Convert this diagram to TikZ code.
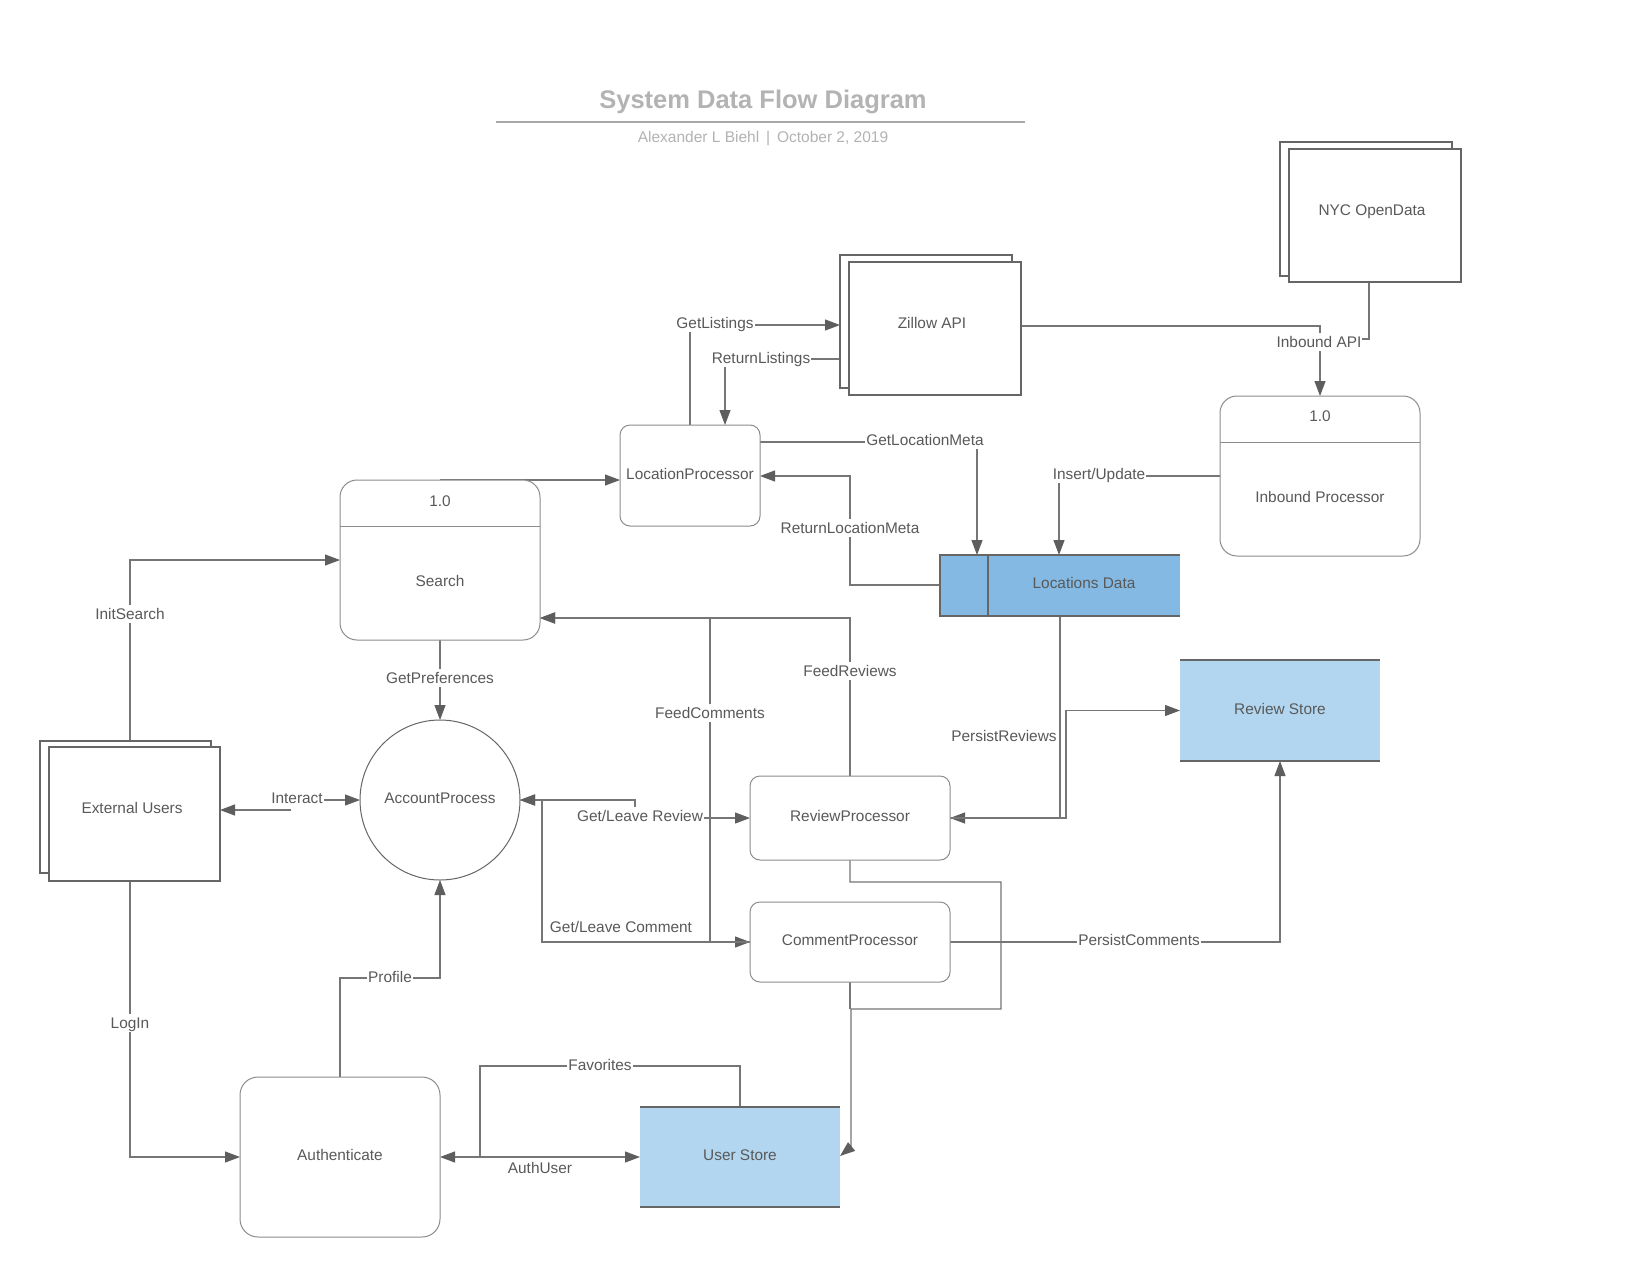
\documentclass[tikz,border=0pt]{standalone}
\usepackage{fontspec}
\setmainfont{Liberation Sans}
\usetikzlibrary{arrows.meta,calc}
\pgfdeclarelayer{bg}
\pgfsetlayers{bg,main}

\definecolor{ink}{HTML}{595959}
\definecolor{wire}{HTML}{767676}
\definecolor{tipc}{HTML}{5E5E5E}
\definecolor{edge}{HTML}{8C8C8C}
\definecolor{dark}{HTML}{666666}
\definecolor{storeA}{HTML}{83B9E2}
\definecolor{storeB}{HTML}{B2D6F0}
\definecolor{head}{HTML}{B3B3B3}
\definecolor{rule}{HTML}{A9A9A9}

\newcommand\lblfont{\fontsize{15.4}{18}\selectfont}

\begin{document}
\begin{tikzpicture}[x=1pt,y=-1pt,
  font=\lblfont,
  every node/.style={inner sep=0pt,outer sep=0pt},
  txt/.style={text=ink,text height=13pt,text depth=1.3pt},
  boxtxt/.style={text=ink,text height=11pt,text depth=3.3pt},
  lbl/.style={txt,fill=white,inner xsep=1pt,inner ysep=1.5pt},
  proc/.style={boxtxt,draw=edge,line width=1pt,fill=white,rounded corners=10pt},
  bigproc/.style={proc,rounded corners=17pt,minimum width=200pt,minimum height=160pt},
  ent/.style={draw=dark,line width=1.1pt,fill=white},
  plain/.style={draw=wire,line width=1.1pt},
  conn/.style={plain,-{Triangle[length=15pt,width=11pt,color=tipc]}},
  both/.style={plain,{Triangle[length=15pt,width=11pt,color=tipc]}-{Triangle[length=15pt,width=11pt,color=tipc]}},
  border/.style={draw=dark,line width=1.1pt}
]
\useasboundingbox (0,0) rectangle (1640,1280);

% heading
\node[font=\bfseries\fontsize{25.5}{30}\selectfont,text=head] (title) at (763,102) {System Data Flow Diagram};
\coordinate (ruleL) at (496,122);
\coordinate (ruleR) at (1025,122);
\draw[rule,line width=2pt] (ruleL) -- (ruleR);
\node[font=\fontsize{15.5}{18}\selectfont,text=head] (sub) at (763,139) {Alexander L Biehl \,|\, October 2, 2019};

% external entities
\node[ent,minimum width=172pt,minimum height=133pt] (zilB) at (926,321.5) {};
\node[ent,minimum width=172pt,minimum height=133pt] (zil) at (935,328.5) {};
\node[txt] (zilT) at (932,323) {Zillow API};

\node[ent,minimum width=172pt,minimum height=134pt] (nycB) at (1366,209) {};
\node[ent,minimum width=172pt,minimum height=133pt] (nyc) at (1375,215.5) {};
\node[txt] (nycT) at (1372,210) {NYC OpenData};

\node[ent,minimum width=171pt,minimum height=132pt] (eub) at (125.5,807) {};
\node[ent,minimum width=171pt,minimum height=134pt] (eu) at (134.5,814) {};
\node[txt] (euT) at (132,808) {External Users};

% processes
\node[proc,minimum width=140pt,minimum height=101pt] (lp) at (690,475.5) {LocationProcessor};

\node[bigproc] (srch) at (440,560) {};
\draw[edge,line width=1pt] (srch.west |- 0,526) -- (srch.east |- 0,526);
\node[txt] (srchN) at (440,501) {1.0};
\node[txt] (srchT) at (440,581) {Search};

\node[bigproc] (ip) at (1320,476) {};
\draw[edge,line width=1pt] (ip.west |- 0,442) -- (ip.east |- 0,442);
\node[txt] (ipN) at (1320,416) {1.0};
\node[txt] (ipT) at (1320,497) {Inbound Processor};

\node[boxtxt,circle,draw=dark,line width=1pt,fill=white,minimum size=160pt] (ap) at (440,800) {AccountProcess};

\node[proc,minimum width=200pt,minimum height=84pt] (rp) at (850,818) {ReviewProcessor};
\node[proc,minimum width=200pt,minimum height=80pt] (cp) at (850,942) {CommentProcessor};
\node[proc,rounded corners=18pt,minimum width=200pt,minimum height=160pt] (auth) at (340,1157) {Authenticate};

% data stores
\node[fill=storeA,minimum width=240pt,minimum height=61pt] (ld) at (1060,585.5) {};
\draw[border] (ld.north east) -- (ld.north west) -- (ld.south west) -- (ld.south east);
\draw[border] (ld.north west -| 988,0) -- (ld.south west -| 988,0);
\node[txt] (ldT) at (1084,583) {Locations Data};

\node[boxtxt,fill=storeB,minimum width=200pt,minimum height=101pt] (rs) at (1280,710.5) {Review Store};
\draw[border] (rs.north west) -- (rs.north east) (rs.south west) -- (rs.south east);

\node[boxtxt,fill=storeB,minimum width=200pt,minimum height=100pt] (us) at (740,1157) {User Store};
\draw[border] (us.north west) -- (us.north east) (us.south west) -- (us.south east);

% flow labels
\node[lbl] (lGL) at (715,323) {GetListings};
\node[lbl] (lRL) at (761,358) {ReturnListings};
\node[lbl] (lIA) at (1319,342) {Inbound API};
\node[lbl] (lGM) at (925,440) {GetLocationMeta};
\node[lbl] (lRM) at (850,528) {ReturnLocationMeta};
\node[lbl] (lIU) at (1099,474) {Insert/Update};
\node[lbl] (lIS) at (130,614) {InitSearch};
\node[lbl] (lGP) at (440,678) {GetPreferences};
\node[lbl] (lIn) at (297,798) {Interact};
\node[lbl] (lGR) at (640,816) {Get/Leave Review};
\node[lbl] (lGC) at (621,927) {Get/Leave Comment};
\node[lbl] (lFR) at (850,671) {FeedReviews};
\node[lbl] (lFC) at (710,713) {FeedComments};
\node[lbl] (lPR) at (1004,736) {PersistReviews};
\node[lbl] (lPC) at (1139,940) {PersistComments};
\node[lbl] (lPf) at (390,977) {Profile};
\node[lbl] (lLI) at (130,1023) {LogIn};
\node[lbl] (lAU) at (540,1168) {AuthUser};
\node[lbl] (lFv) at (600,1065) {Favorites};

\coordinate (intr) at (291,810);

% data flows, kept beneath the shapes and labels
\begin{pgfonlayer}{bg}
\fill[white] (0,0) rectangle (1640,1280);
\draw[conn] (lp.north) -- (690,325) -- (zilB.west |- 0,325);
\draw[conn] (zilB.west |- 0,359) -- (725,359) -- (lp.north -| 725,0);
\draw[conn] (zil.east |- 0,326) -| (ip.north);
\draw[plain] (nyc.south -| 1369,0) |- (1319,339);
\draw[conn] (lp.east |- 0,442) -| (ld.north -| 977,0);
\draw[conn] (ld.west |- 0,585) -| (850,476) -- (lp.east |- 0,476);
\draw[conn] (ip.west |- 0,476) -| (ld.north -| 1059,0);
\draw[conn] (srch.north) -- (lp.west |- 0,480);
\draw[conn] (eub.north -| 130,0) |- (srch.west |- 0,560);
\draw[conn] (srch.south) -- (ap.north);
\draw[conn] (lIn.east |- ap.west) -- (ap.west);
\draw[conn] (intr) -- (eu.east |- intr);
\draw[both] (ap.east) -- (635,800) -- (635,818) -- (rp.west);
\draw[both] (ap.east) -- (542,800) |- (cp.west);
\draw[conn] (rp.north) |- (srch.east |- 0,618);
\draw[conn] (cp.west) -| (710,618) -- (srch.east |- 0,618);
\draw[conn] (ld.south) |- (rp.east);
\draw[conn] (rp.east) -- (1066,818) |- (rs.west);
\draw[conn] (cp.east) -| (rs.south);
\draw[conn] (rp.south) |- (1001,882) |- (851,1009) -- (851,1147) -- (us.east |- 0,1156);
\draw[plain] (cp.south) -- (850,1009);
\draw[conn] (auth.north) |- (440,978) -- (ap.south);
\draw[conn] (eu.south -| 130,0) |- (auth.west);
\draw[both] (auth.east) -- (us.west);
\draw[plain] (us.north) |- (480,1066) -- (480,1157);
\end{pgfonlayer}
\end{tikzpicture}
\end{document}
